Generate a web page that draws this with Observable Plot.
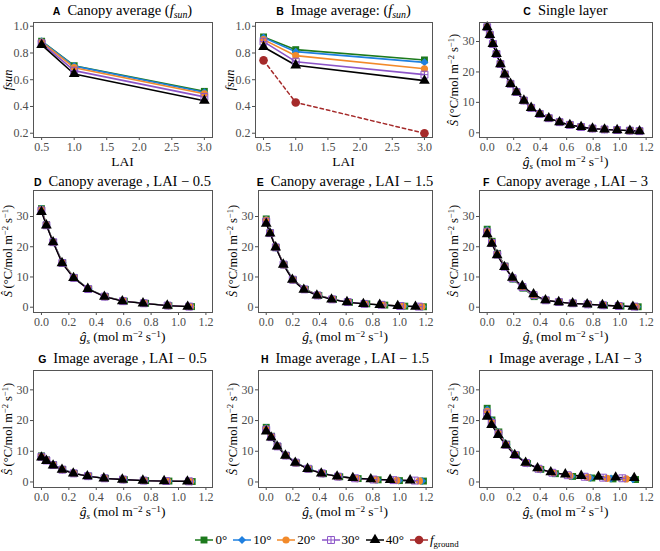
<!DOCTYPE html>
<html><head><meta charset="utf-8">
<script src="https://cdn.jsdelivr.net/npm/d3@7"></script>
<script src="https://cdn.jsdelivr.net/npm/@observablehq/plot@0.6"></script>
<style>
body{margin:0;background:#fff;}
#root{position:relative;width:660px;height:551px;overflow:hidden;font-family:'Liberation Serif','Times New Roman','DejaVu Serif',serif;color:#000;background:#fff;}
.t{position:absolute;white-space:nowrap;transform:translate(-50%,-50%);line-height:1;}
.ttl{font-size:14.5px;}
.ttl b{font-family:'Liberation Sans','DejaVu Sans',sans-serif;font-size:10.5px;font-weight:bold;margin-right:7px;}
.ax{font-size:13.5px;}
.axy{font-size:12.5px;}
.rot{transform:translate(-50%,-50%) rotate(-90deg);}
sup{font-size:0.68em;vertical-align:0.5em;line-height:0;}
sub{font-size:0.68em;vertical-align:-0.3em;line-height:0;}
#legend{position:absolute;left:0;width:660px;top:532px;height:16px;display:flex;justify-content:center;align-items:center;font-size:13px;}
#legend .it{display:flex;align-items:center;margin-right:6px;}
#legend svg{margin-right:2px;}
</style></head>
<body><div id="root"></div>
<script>
// ---------- data ----------
const angles = ["0°", "10°", "20°", "30°", "40°"];
const laiValues = [0.5, 1.0, 3.0];
const laiTicks = [0.5, 1.0, 1.5, 2.0, 2.5, 3.0];
const fsunTicks = [0.2, 0.4, 0.6, 0.8, 1.0];
const gsTicks = [0, 0.2, 0.4, 0.6, 0.8, 1.0, 1.2];
const sTicks = [0, 10, 20, 30];

// A: canopy average fsun (rows = angles)
const fsunCanopy = [
  [0.888, 0.705, 0.513],
  [0.887, 0.702, 0.507],
  [0.882, 0.690, 0.495],
  [0.872, 0.668, 0.472],
  [0.860, 0.643, 0.443]
];
// B: image average fsun
const fsunImage = [
  [0.920, 0.825, 0.748],
  [0.915, 0.810, 0.730],
  [0.900, 0.780, 0.682],
  [0.885, 0.735, 0.638],
  [0.845, 0.708, 0.593]
];
const fGround = [0.745, 0.430, 0.200];

// C: single layer (all angles coincide)
const singleGs = [0, 0.02, 0.043, 0.07, 0.1, 0.133, 0.176, 0.221, 0.277, 0.332, 0.397, 0.465, 0.546, 0.624, 0.709, 0.795, 0.886, 0.981, 1.077, 1.15];
const singleS  = [34.7, 32.2, 29.2, 25.9, 22.6, 19.2, 16.1, 13.4, 10.6, 8.2, 6.2, 4.8, 3.5, 2.6, 1.9, 1.4, 1.1, 0.9, 0.7, 0.55];

// D: canopy average, LAI 0.5
const canopy05Gs = [
  [0, 0.037, 0.088, 0.155, 0.240, 0.345, 0.468, 0.605, 0.760, 0.930, 1.095],
  [0, 0.037, 0.088, 0.154, 0.239, 0.344, 0.466, 0.602, 0.757, 0.927, 1.090],
  [0, 0.037, 0.087, 0.153, 0.238, 0.342, 0.464, 0.600, 0.753, 0.925, 1.088],
  [0, 0.036, 0.086, 0.152, 0.236, 0.340, 0.461, 0.595, 0.747, 0.921, 1.078],
  [0, 0.036, 0.085, 0.150, 0.234, 0.338, 0.459, 0.590, 0.741, 0.918, 1.067]
];
const canopy05S = [
  [32.6, 27.3, 21.4, 14.7, 9.7, 6.0, 3.5, 2.0, 1.3, 0.50, 0.2],
  [32.5, 27.2, 21.4, 14.7, 9.7, 6.0, 3.5, 2.0, 1.3, 0.50, 0.2],
  [32.3, 27.2, 21.4, 14.7, 9.7, 6.0, 3.5, 2.0, 1.3, 0.50, 0.2],
  [32.0, 27.1, 21.5, 14.6, 9.7, 6.0, 3.5, 2.0, 1.3, 0.55, 0.2],
  [31.5, 27.1, 21.5, 14.6, 9.7, 6.1, 3.5, 2.0, 1.3, 0.55, 0.2]
];

// E: canopy average, LAI 1.5
const canopy15Gs = [
  [0, 0.030, 0.074, 0.134, 0.205, 0.295, 0.395, 0.505, 0.625, 0.755, 0.890, 1.040, 1.180],
  [0, 0.030, 0.073, 0.133, 0.203, 0.292, 0.392, 0.502, 0.620, 0.750, 0.884, 1.033, 1.175],
  [0, 0.030, 0.073, 0.132, 0.202, 0.290, 0.390, 0.500, 0.617, 0.745, 0.877, 1.025, 1.168],
  [0, 0.029, 0.072, 0.130, 0.199, 0.286, 0.385, 0.495, 0.612, 0.737, 0.865, 1.005, 1.145],
  [0, 0.029, 0.071, 0.128, 0.196, 0.282, 0.380, 0.490, 0.606, 0.729, 0.852, 0.987, 1.120]
];
const canopy15S = [
  [29.2, 24.6, 19.7, 14.0, 9.0, 5.9, 3.9, 2.6, 1.6, 1.1, 0.70, 0.35, 0.15],
  [29.0, 24.6, 19.7, 14.0, 9.0, 5.9, 3.9, 2.6, 1.6, 1.1, 0.70, 0.35, 0.15],
  [28.8, 24.5, 19.8, 14.0, 9.0, 5.9, 3.9, 2.6, 1.6, 1.1, 0.75, 0.38, 0.18],
  [28.3, 24.5, 19.8, 14.1, 9.1, 5.9, 3.9, 2.6, 1.7, 1.1, 0.80, 0.40, 0.20],
  [27.6, 24.4, 19.8, 14.1, 9.1, 5.8, 3.9, 2.6, 1.7, 1.1, 0.80, 0.40, 0.20]
];

// F: canopy average, LAI 3
const canopy3Gs = [
  [0, 0.037, 0.078, 0.135, 0.195, 0.270, 0.355, 0.445, 0.545, 0.650, 0.765, 0.885, 1.010, 1.140],
  [0, 0.037, 0.078, 0.134, 0.194, 0.269, 0.354, 0.444, 0.544, 0.649, 0.763, 0.882, 1.005, 1.132],
  [0, 0.036, 0.077, 0.133, 0.193, 0.268, 0.353, 0.443, 0.543, 0.648, 0.761, 0.879, 1.000, 1.125],
  [0, 0.036, 0.076, 0.131, 0.191, 0.266, 0.351, 0.441, 0.541, 0.646, 0.758, 0.875, 0.993, 1.112],
  [0, 0.035, 0.075, 0.130, 0.190, 0.265, 0.350, 0.440, 0.540, 0.645, 0.755, 0.870, 0.985, 1.100]
];
const canopy3S = [
  [25.8, 21.8, 17.8, 13.6, 9.3, 6.3, 3.5, 2.3, 1.7, 1.3, 0.90, 0.60, 0.35, 0.15],
  [25.5, 21.6, 17.7, 13.5, 9.4, 6.4, 3.7, 2.3, 1.7, 1.3, 0.90, 0.60, 0.35, 0.15],
  [25.2, 21.5, 17.6, 13.5, 9.5, 6.5, 3.8, 2.3, 1.7, 1.3, 0.95, 0.65, 0.38, 0.18],
  [24.8, 21.2, 17.4, 13.4, 9.6, 6.7, 4.0, 2.3, 1.7, 1.3, 0.95, 0.65, 0.40, 0.20],
  [24.2, 21.0, 17.2, 13.3, 9.8, 7.0, 4.3, 2.3, 1.7, 1.3, 1.00, 0.70, 0.40, 0.20]
];

// G: image average, LAI 0.5
const image05Gs = [
  [0, 0.037, 0.088, 0.155, 0.240, 0.345, 0.468, 0.605, 0.760, 0.930, 1.100],
  [0, 0.037, 0.088, 0.154, 0.239, 0.344, 0.466, 0.602, 0.757, 0.926, 1.095],
  [0, 0.037, 0.087, 0.153, 0.237, 0.342, 0.463, 0.599, 0.752, 0.920, 1.088],
  [0, 0.036, 0.086, 0.152, 0.235, 0.339, 0.460, 0.595, 0.746, 0.910, 1.077],
  [0, 0.036, 0.085, 0.150, 0.232, 0.335, 0.455, 0.590, 0.740, 0.895, 1.065]
];
const image05S = [
  [8.5, 7.2, 5.6, 4.1, 2.8, 1.9, 1.2, 0.75, 0.45, 0.3, 0.15],
  [8.4, 7.1, 5.6, 4.1, 2.8, 1.9, 1.2, 0.75, 0.45, 0.3, 0.15],
  [8.3, 7.1, 5.5, 4.0, 2.8, 1.9, 1.2, 0.78, 0.45, 0.3, 0.18],
  [8.2, 7.0, 5.5, 4.0, 2.8, 1.9, 1.2, 0.80, 0.45, 0.3, 0.20],
  [8.0, 6.9, 5.4, 4.0, 2.8, 1.9, 1.2, 0.80, 0.45, 0.3, 0.20]
];

// H: image average, LAI 1.5
const image15Gs = [
  [0, 0.040, 0.087, 0.152, 0.228, 0.322, 0.430, 0.552, 0.690, 0.840, 1.000, 1.180],
  [0, 0.039, 0.086, 0.151, 0.226, 0.320, 0.427, 0.549, 0.686, 0.834, 0.995, 1.170],
  [0, 0.039, 0.085, 0.149, 0.224, 0.317, 0.423, 0.545, 0.680, 0.825, 0.980, 1.150],
  [0, 0.038, 0.084, 0.147, 0.221, 0.314, 0.418, 0.539, 0.667, 0.805, 0.955, 1.115],
  [0, 0.037, 0.082, 0.144, 0.218, 0.310, 0.413, 0.532, 0.650, 0.785, 0.930, 1.080]
];
const image15S = [
  [17.8, 14.9, 11.6, 8.6, 6.2, 4.2, 2.7, 1.70, 1.1, 0.70, 0.45, 0.30],
  [17.6, 14.8, 11.6, 8.6, 6.2, 4.2, 2.7, 1.70, 1.1, 0.70, 0.45, 0.30],
  [17.3, 14.8, 11.6, 8.6, 6.2, 4.2, 2.7, 1.70, 1.1, 0.75, 0.50, 0.35],
  [17.0, 14.6, 11.6, 8.6, 6.3, 4.3, 2.8, 1.75, 1.2, 0.80, 0.60, 0.45],
  [16.5, 14.5, 11.6, 8.6, 6.3, 4.3, 2.8, 1.80, 1.3, 0.90, 0.70, 0.55]
];

// I: image average, LAI 3
const image3Gs = [
  [0, 0.036, 0.088, 0.148, 0.220, 0.305, 0.405, 0.515, 0.645, 0.790, 0.950, 1.120],
  [0, 0.036, 0.087, 0.146, 0.218, 0.302, 0.400, 0.510, 0.637, 0.780, 0.935, 1.100],
  [0, 0.035, 0.086, 0.144, 0.215, 0.298, 0.394, 0.502, 0.625, 0.760, 0.905, 1.050],
  [0, 0.034, 0.085, 0.142, 0.211, 0.294, 0.387, 0.492, 0.608, 0.736, 0.875, 1.020],
  [0, 0.033, 0.083, 0.140, 0.208, 0.290, 0.380, 0.480, 0.590, 0.710, 0.840, 0.970, 1.110]
];
const image3S = [
  [24.0, 20.2, 16.3, 12.3, 8.8, 6.0, 4.1, 2.7, 1.8, 1.3, 1.0, 0.8],
  [23.6, 20.0, 16.2, 12.3, 8.8, 6.0, 4.1, 2.8, 1.9, 1.4, 1.1, 0.9],
  [23.0, 19.6, 16.0, 12.2, 8.8, 6.1, 4.2, 2.9, 2.0, 1.5, 1.2, 1.0],
  [22.3, 19.2, 15.7, 12.1, 8.8, 6.2, 4.3, 3.0, 2.2, 1.7, 1.4, 1.2],
  [21.3, 18.6, 15.3, 12.0, 8.8, 6.3, 4.5, 3.2, 2.5, 2.0, 1.7, 1.5, 1.3]
];

// ---------- styles ----------
const serif = "'Liberation Serif','Times New Roman','DejaVu Serif',serif";
const angleColors = ["#1d7a1d", "#1f80e0", "#f28a2a", "#8c55c8", "#000000"];
const groundColor = "#a52a2a";
const squarePlus = {
  draw(ctx, size) {
    const s = Math.sqrt(size) / 2;
    ctx.moveTo(-s, -s); ctx.lineTo(s, -s); ctx.lineTo(s, s); ctx.lineTo(-s, s); ctx.closePath();
    ctx.moveTo(-s, 0); ctx.lineTo(s, 0);
    ctx.moveTo(0, -s); ctx.lineTo(0, s);
  }
};
const angleSymbols = ["square", "diamond2", "circle", squarePlus, "triangle"];
const angleR = [3.9, 3.6, 3.6, 3.9, 4.0];
const angleOpen = [false, false, false, true, false];

const root = document.getElementById("root");
function addText(html, x, y, cls) {
  const d = document.createElement("div");
  d.className = "t " + cls;
  d.innerHTML = html;
  d.style.left = x + "px";
  d.style.top = y + "px";
  root.appendChild(d);
}

const sLabel = "<i>Ŝ</i>&thinsp;(°C/mol m<sup>−2</sup> s<sup>−1</sup>)";
const gsLabel = "<i>ĝ<sub>s</sub></i> (mol m<sup>−2</sup> s<sup>−1</sup>)";

function panel(cfg) {
  const mL = 32, mR = 6, mT = 6, mB = 22;
  const fw = cfg.right - cfg.left, fh = cfg.bottom - cfg.top;
  const marks = [];
  cfg.series.forEach((s, i) => {
    const rows = s.x.map((v, j) => ({x: v, y: s.y[j]}));
    marks.push(Plot.line(rows, {x: "x", y: "y", stroke: angleColors[i], strokeWidth: cfg.lw}));
  });
  if (cfg.ground) {
    const rows = cfg.ground.x.map((v, j) => ({x: v, y: cfg.ground.y[j]}));
    marks.push(Plot.line(rows, {x: "x", y: "y", stroke: groundColor, strokeWidth: 1.5, strokeDasharray: "3.5,3"}));
  }
  cfg.series.forEach((s, i) => {
    const rows = s.x.map((v, j) => ({x: v, y: s.y[j]}));
    marks.push(Plot.dot(rows, {
      x: "x", y: "y", symbol: angleSymbols[i], r: angleR[i],
      fill: angleOpen[i] ? "none" : angleColors[i],
      stroke: angleOpen[i] ? angleColors[i] : "none", strokeWidth: 1
    }));
  });
  if (cfg.ground) {
    const rows = cfg.ground.x.map((v, j) => ({x: v, y: cfg.ground.y[j]}));
    marks.push(Plot.dot(rows, {x: "x", y: "y", r: 4.3, fill: groundColor}));
  }
  const svg = Plot.plot({
    width: fw + mL + mR, height: fh + mT + mB,
    marginLeft: mL, marginRight: mR, marginTop: mT, marginBottom: mB,
    style: {fontFamily: serif, fontSize: "12px", color: "#4d4d4d", background: "transparent", overflow: "visible"},
    x: {domain: cfg.xDomain},
    y: {domain: cfg.yDomain},
    marks: [
      Plot.axisX({ticks: cfg.xTicks, tickFormat: d3.format(".1f"), tickSize: 3, tickPadding: 2, label: null}),
      Plot.axisY({ticks: cfg.yTicks, tickFormat: cfg.yFormat, tickSize: 3, tickPadding: 2, label: null}),
      ...marks,
      Plot.frame({stroke: "#555", strokeWidth: 1})
    ]
  });
  svg.style.position = "absolute";
  svg.style.left = (cfg.left - mL) + "px";
  svg.style.top = (cfg.top - mT) + "px";
  root.appendChild(svg);
  const cx = (cfg.left + cfg.right) / 2, cy = (cfg.top + cfg.bottom) / 2;
  addText("<b>" + cfg.letter + "</b>" + cfg.title, cx, cfg.top - cfg.titleGap, "ttl");
  addText(cfg.xLabel, cx, cfg.bottom + 25, "ax");
  addText(cfg.yLabel, cfg.left - 25.5, cy, "axy rot");
}

function angleSeries(xs, ys) {
  return angles.map((a, i) => ({x: Array.isArray(xs[0]) ? xs[i] : xs, y: Array.isArray(ys[0]) ? ys[i] : ys}));
}

const fsunDom = [0.168, 1.028], laiDom = [0.375, 3.125], gsDom = [-0.058, 1.248];
const fsunLabel = "<i>fsun</i>";

panel({letter: "A", title: "Canopy average (<i>f<sub>sun</sub></i>)", left: 33, right: 212, top: 22, bottom: 137, titleGap: 12,
  xDomain: laiDom, yDomain: fsunDom, xTicks: laiTicks, yTicks: fsunTicks, yFormat: d3.format(".1f"),
  xLabel: "LAI", yLabel: fsunLabel, lw: 1.6,
  series: angleSeries(laiValues, fsunCanopy)});
panel({letter: "B", title: "Image average: (<i>f<sub>sun</sub></i>)", left: 255, right: 432, top: 22, bottom: 137, titleGap: 12,
  xDomain: laiDom, yDomain: fsunDom, xTicks: laiTicks, yTicks: fsunTicks, yFormat: d3.format(".1f"),
  xLabel: "LAI", yLabel: fsunLabel, lw: 1.6,
  series: angleSeries(laiValues, fsunImage), ground: {x: laiValues, y: fGround}});
panel({letter: "C", title: "Single layer", left: 479, right: 652, top: 22, bottom: 137, titleGap: 12,
  xDomain: gsDom, yDomain: [-1.55, 36.25], xTicks: gsTicks, yTicks: sTicks, yFormat: d3.format("d"),
  xLabel: gsLabel, yLabel: sLabel, lw: 1.3,
  series: angleSeries(singleGs, singleS)});

const row2 = {top: 190, bottom: 312, yDomain: [-1.75, 38.6], titleGap: 9};
const row3 = {top: 370, bottom: 487, yDomain: [-1.8, 36.3], titleGap: 12};
const common = {xDomain: gsDom, xTicks: gsTicks, yTicks: sTicks, yFormat: d3.format("d"), xLabel: gsLabel, yLabel: sLabel, lw: 1.3};

panel({...common, ...row2, letter: "D", title: "Canopy average , LAI − 0.5", left: 33, right: 212,
  series: angleSeries(canopy05Gs, canopy05S)});
panel({...common, ...row2, letter: "E", title: "Canopy average , LAI − 1.5", left: 258, right: 432,
  series: angleSeries(canopy15Gs, canopy15S)});
panel({...common, ...row2, letter: "F", title: "Canopy average , LAI − 3", left: 479, right: 652,
  series: angleSeries(canopy3Gs, canopy3S)});
panel({...common, ...row3, letter: "G", title: "Image average , LAI − 0.5", left: 33, right: 212,
  series: angleSeries(image05Gs, image05S)});
panel({...common, ...row3, letter: "H", title: "Image average , LAI − 1.5", left: 258, right: 432,
  series: angleSeries(image15Gs, image15S)});
panel({...common, ...row3, letter: "I", title: "Image average , LAI − 3", left: 479, right: 652,
  series: angleSeries(image3Gs, image3S)});

// ---------- legend ----------
const legend = document.createElement("div");
legend.id = "legend";
const legendItems = angles.map((a, i) => ({label: a, color: angleColors[i], symbol: angleSymbols[i], r: angleR[i], open: angleOpen[i]}));
legendItems.push({label: "<i>f</i><sub>ground</sub>", color: groundColor, symbol: "circle", r: 4.3, open: false});
const symMap = {square: d3.symbolSquare, diamond2: d3.symbolDiamond2, circle: d3.symbolCircle, triangle: d3.symbolTriangle};
legendItems.forEach(it => {
  const item = document.createElement("div");
  item.className = "it";
  const type = typeof it.symbol === "string" ? symMap[it.symbol] : it.symbol;
  const path = d3.symbol(type, Math.PI * it.r * it.r)();
  item.innerHTML = `<svg width="18" height="14" viewBox="-9 -7 18 14"><line x1="-9" x2="9" y1="0" y2="0" stroke="${it.color}" stroke-width="1.5"/><path d="${path}" fill="${it.open ? "white" : it.color}" stroke="${it.open ? it.color : "none"}" stroke-width="1"/></svg><span>${it.label}</span>`;
  legend.appendChild(item);
});
root.appendChild(legend);
</script></body></html>
